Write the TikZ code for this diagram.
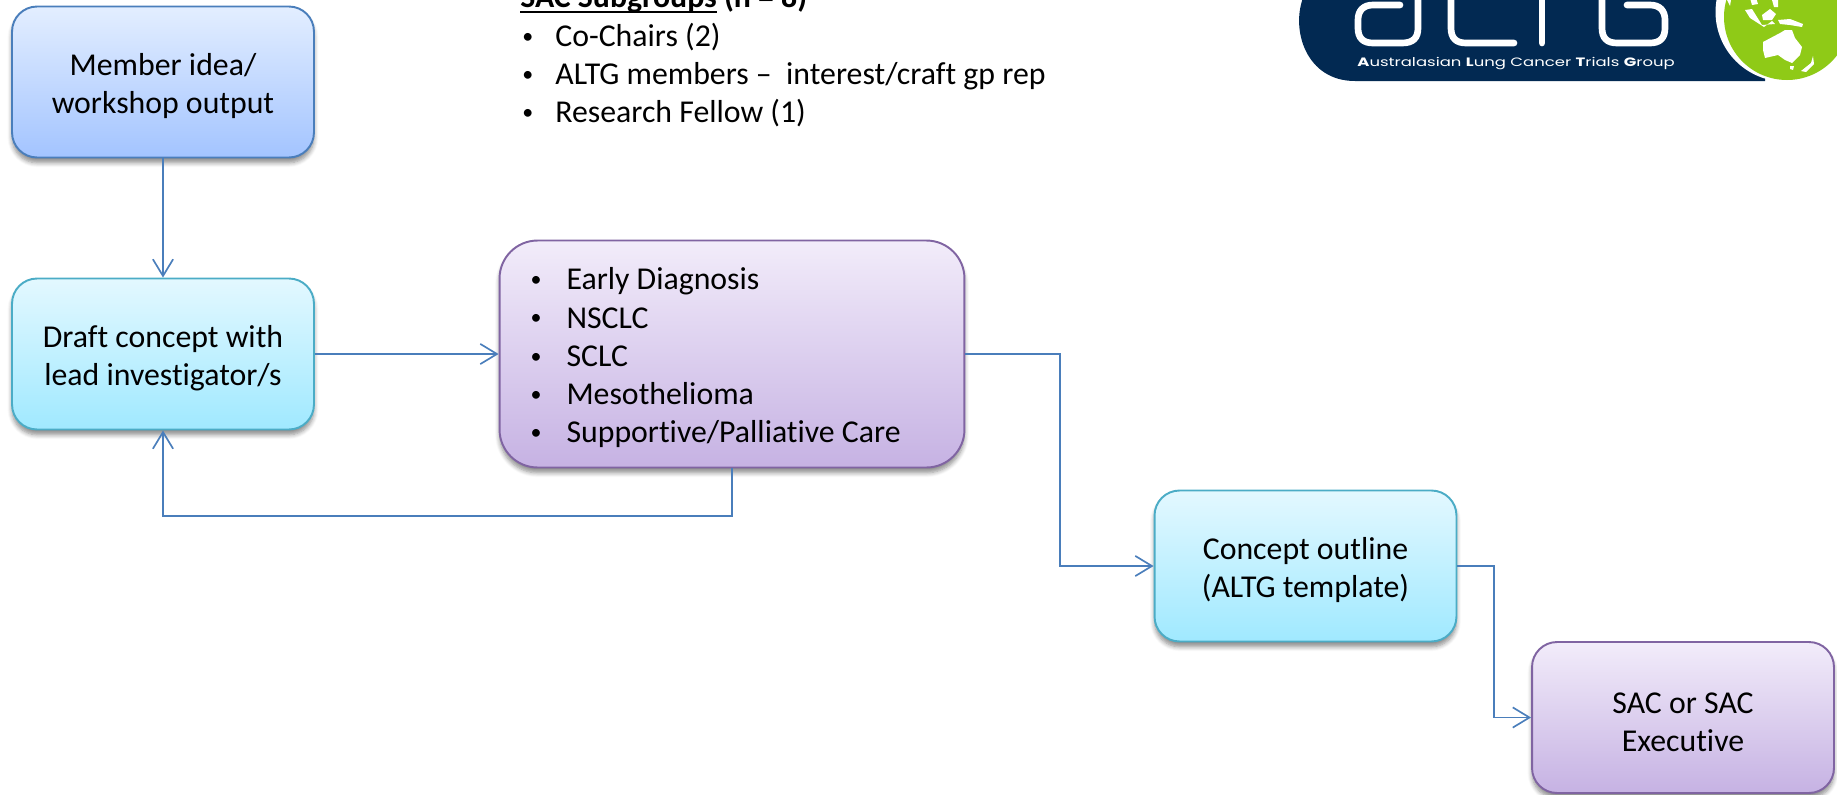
\documentclass[tikz,border=0pt]{standalone}
\usepackage{fontspec}
\setmainfont[Ligatures=NoCommon]{Carlito}
\newfontfamily\logofont{Poppins}
\usepackage{tikz}
\usetikzlibrary{arrows.meta, shadows.blur}
\definecolor{linkblue}{HTML}{4A7EBB}
\definecolor{logonavy}{HTML}{022952}
\definecolor{logogreen}{HTML}{8FCA17}
\newsavebox{\headbox}
\newcommand{\headline}[1]{\sbox{\headbox}{#1}\rlap{\rule[-2.9pt]{\wd\headbox}{.95pt}}\usebox{\headbox}}
\newcommand{\dotmark}{\raisebox{1.8pt}{\fontsize{12.5}{12.5}\selectfont\textbullet}}
\newcommand{\itm}[1]{\makebox[.62cm][l]{\hspace*{-.1cm}\dotmark}#1}
\newcommand{\subitm}[1]{\makebox[.7cm][l]{\hspace*{.04cm}\dotmark}#1}
\newcommand{\drop}{\rule{0pt}{17pt}}
\tikzset{
    box/.style={draw, rectangle, rounded corners=.5cm, line width=1.1pt, align=center,
        minimum width=6.04cm, minimum height=3.02cm, inner sep=0pt,
        blur shadow={shadow xshift=0pt, shadow yshift=-3pt, shadow blur steps=6, shadow blur radius=2.5pt, shadow opacity=45}},
    bluebox/.style={box, draw=linkblue, top color={rgb,255:red,227;green,238;blue,255}, bottom color={rgb,255:red,163;green,196;blue,255}},
    aquabox/.style={box, draw={rgb,255:red,75;green,172;blue,198}, top color={rgb,255:red,227;green,248;blue,255}, bottom color={rgb,255:red,160;green,233;blue,255}},
    purplebox/.style={box, draw={rgb,255:red,128;green,100;blue,162}, top color={rgb,255:red,242;green,236;blue,250}, bottom color={rgb,255:red,198;green,178;blue,227}},
    link/.style={draw=linkblue, line width=.95pt, -{Straight Barb[length=9.5pt,width=11.5pt]}},
    letter/.style={draw=white, line width=3.8pt, line cap=round},
    land/.style={fill=white, draw=none}
}
\begin{document}
\begin{tikzpicture}[x=.02cm, y=-.02cm, font=\fontsize{18.1}{21.8}\selectfont]
    \useasboundingbox (0,0) rectangle (1837,795);

    \node[bluebox] (member) at (163,82) {\drop Member idea/\\workshop output};
    \node[aquabox] (draft) at (163,354) {\drop Draft concept with\\lead investigator/s};
    \node[purplebox, rounded corners=.76cm, align=flush left, minimum width=9.3cm, minimum height=4.54cm, inner xsep=.72cm, text width=7.86cm] (areas) at (732,354) {\drop\itm{Early Diagnosis}\\\itm{NSCLC}\\\itm{SCLC}\\\itm{Mesothelioma}\\\itm{Supportive/Palliative Care}};
    \node[aquabox] (concept) at (1305.5,566) {\drop Concept outline\\(ALTG template)};
    \node[purplebox] (sac) at (1683,717.5) {\drop SAC or SAC\\Executive};

    \node[anchor=north west, align=flush left, inner sep=0pt] (subs) at (520,-16) {\textbf{\headline{SAC Subgroups} (n = 8)}\\\subitm{Co-Chairs (2)}\\\subitm{ALTG members --\ \ interest/craft gp rep}\\\subitm{Research Fellow (1)}};

    \coordinate (back) at (163,516);
    \coordinate (bendc) at (1060,566);
    \coordinate (bends) at (1494,717.5);

    \draw[link] (member) -- (draft);
    \draw[link] (draft) -- (areas);
    \draw[link] (areas.south) |- (back) -- (draft.south);
    \draw[link] (areas.east) -| (bendc) -- (concept);
    \draw[link] (concept.east) -| (bends) -- (sac);

    % logo
    \begin{scope}
        \clip (0,0) rectangle (1837,795);
        \fill[logonavy] (1303,-2) .. controls (1291,30) and (1306,81) .. (1355,81) -- (1765,81) -- (1765,-2) -- cycle;
        \fill[white] (1785,12) circle [radius=69.5*.02cm];
        \fill[logogreen] (1787,17) circle [radius=63*.02cm];
        \draw[letter] (1400,5) -- (1373,5) .. controls (1363,5) and (1358,11) .. (1358,20) -- (1358,28) .. controls (1358,38) and (1363,43) .. (1373,43) -- (1402,43) .. controls (1413,43) and (1418,38) .. (1418,28) -- (1418,-5);
        \draw[letter] (1451,-5) -- (1451,28) .. controls (1451,38) and (1456,43) .. (1466,43) -- (1514,43);
        \draw[letter] (1542,-5) -- (1542,43);
        \draw[letter] (1627,5) -- (1650,5) .. controls (1660,5) and (1665,11) .. (1665,20) -- (1665,28) .. controls (1665,38) and (1660,43) .. (1650,43) -- (1617,43) .. controls (1607,43) and (1602,38) .. (1602,28) -- (1602,-5);
        \node[anchor=base west, inner sep=0pt, text=white, font=\logofont\fontsize{6.9}{8}\selectfont] (tag) at (1357,66) {\scalebox{1.36}[1]{\textbf{A}ustralasian \textbf{L}ung Cancer \textbf{T}rials \textbf{G}roup}};
        % Australia and islands
        \fill[land] (1763,42) -- (1780,33) -- (1785,30) -- (1792,30) -- (1795,38) -- (1802,47) -- (1800,55) -- (1792,63) -- (1785,60) -- (1778,55) -- (1765,58) -- (1763,50) -- cycle;
        \fill[land] (1790,66) -- (1794,66) -- (1793,70) -- (1790,69) -- cycle;
        \fill[land] (1801,71) -- (1811,63) -- (1813,56) -- (1814,64) -- (1806,72) -- cycle;
        \fill[land] (1745,10) -- (1752,9) -- (1762,25) -- (1775,24) -- (1772,21) -- (1764,27) -- (1750,18) -- cycle;
        \fill[land] (1762,15) -- (1770,9) -- (1776,14) -- (1772,20) -- (1763,20) -- cycle;
        \fill[land] (1778,20) -- (1790,19) -- (1803,24) -- (1802,27) -- (1790,25) -- (1780,24) -- cycle;
        \fill[land] (1750,-2) -- (1756,-2) -- (1758,4) -- (1752,5) -- cycle;
        \fill[land] (1772,0) -- (1778,0) -- (1778,7) -- (1774,7) -- cycle;
        \fill[land] (1727,0) -- (1731,0) -- (1730,6) -- cycle;
    \end{scope}
\end{tikzpicture}
\end{document}
